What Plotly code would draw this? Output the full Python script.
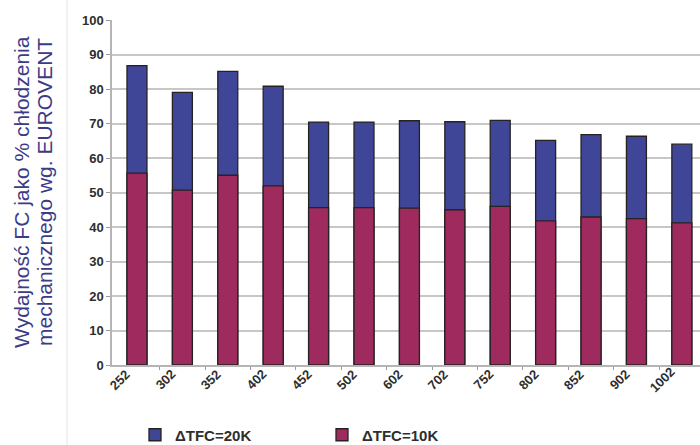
import plotly.graph_objects as go

# Unit sizes (categories) and free-cooling efficiency, % of mechanical cooling
models = ["252", "302", "352", "402", "452", "502", "602", "702", "752", "802", "852", "902", "1002"]
dt20 = [86.8, 79.0, 85.1, 80.8, 70.4, 70.4, 70.8, 70.5, 70.9, 65.1, 66.8, 66.3, 64.0]
dt10 = [55.6, 50.7, 55.0, 51.9, 45.6, 45.6, 45.5, 45.0, 46.0, 41.8, 42.9, 42.4, 41.2]
y_title = ["Wydajność FC jako % chłodzenia", "mechanicznego wg. EUROVENT"]

BLUE = "#3f4597"
MAGENTA = "#9e2a5e"
TEXT = "#2e2e2e"
TITLE = "#3b3b88"
FONT = "Liberation Sans, Arial, sans-serif"

pos = list(range(len(models)))

fig = go.Figure()
fig.add_trace(go.Bar(
    x=pos, y=dt20, name="<b>ΔTFC=20K</b>",
    marker=dict(color=BLUE, line=dict(color="#262222", width=1.3)),
    width=0.44,
))
fig.add_trace(go.Bar(
    x=pos, y=dt10, name="<b>ΔTFC=10K</b>",
    marker=dict(color=MAGENTA, line=dict(color="#262222", width=1.3)),
    width=0.44,
))

W, H = 700, 445
ml, mr, mt, mb = 112, 0, 20, 80
pw, ph = W - ml - mr, H - mt - mb
x_range = [-0.55, 12.4]
px_per_cat = pw / (x_range[1] - x_range[0])

fig.update_layout(
    width=W, height=H,
    margin=dict(l=ml, r=mr, t=mt, b=mb, autoexpand=False),
    barmode="overlay",
    plot_bgcolor="white",
    paper_bgcolor="white",
    showlegend=True,
    legend=dict(
        orientation="h",
        xref="container", yref="container",
        x=135 / W, xanchor="left",
        y=1 - 435 / H, yanchor="middle",
        font=dict(size=15, color=TEXT, family=FONT),
        itemwidth=30,
        entrywidth=142,
        traceorder="normal",
    ),
    xaxis=dict(
        range=x_range,
        automargin=False,
        showgrid=False,
        showline=True, linecolor="#b5b5b5", linewidth=1.5,
        tickmode="array", tickvals=pos,
        showticklabels=False,
        ticks="",
        minor=dict(
            tickmode="array",
            tickvals=[p + 0.5 for p in pos],
            ticks="outside", ticklen=3, tickcolor="#9a9a9a", showgrid=False,
        ),
        zeroline=False,
    ),
    yaxis=dict(
        range=[0, 100],
        automargin=False,
        tickmode="array",
        tickvals=list(range(0, 101, 10)),
        ticktext=[f"<b>{v}</b>" for v in range(0, 101, 10)],
        showgrid=True, gridcolor="#c9c6c6", gridwidth=1.6,
        showline=True, linecolor="#b5b5b5", linewidth=1.5,
        ticks="outside", ticklen=4, tickcolor="#9a9a9a",
        tickfont=dict(size=13, color=TEXT, family=FONT),
        zeroline=False,
    ),
)

# slanted category labels: the end of each label sits just left of its bar,
# so the centre is moved back along the 45° line by half the text length
label_size = 13
for p, m in zip(pos, models):
    half = len(m) * 0.556 * label_size / 2 * 0.7071
    fig.add_annotation(
        x=p - (9 + half) / px_per_cat,
        y=-(23 + half) / ph,
        xref="x", yref="paper",
        text=f"<b>{m}</b>", textangle=-45, showarrow=False,
        font=dict(size=label_size, color=TEXT, family=FONT),
    )

# two-line vertical axis title
for cx, line in zip([21, 44], y_title):
    fig.add_annotation(
        x=(cx - ml) / pw, y=(H - mb - 192) / ph, xref="paper", yref="paper",
        text=line, textangle=-90, showarrow=False,
        xanchor="center", yanchor="middle",
        font=dict(size=21, color=TITLE, family=FONT),
    )

# thin separator line on the left of the chart area
fig.add_shape(
    type="line", xref="paper", yref="paper",
    x0=(67 - ml) / pw, x1=(67 - ml) / pw,
    y0=-mb / ph, y1=1 + mt / ph,
    line=dict(color="#e4e4e4", width=1),
)

fig.write_html("out.html")
